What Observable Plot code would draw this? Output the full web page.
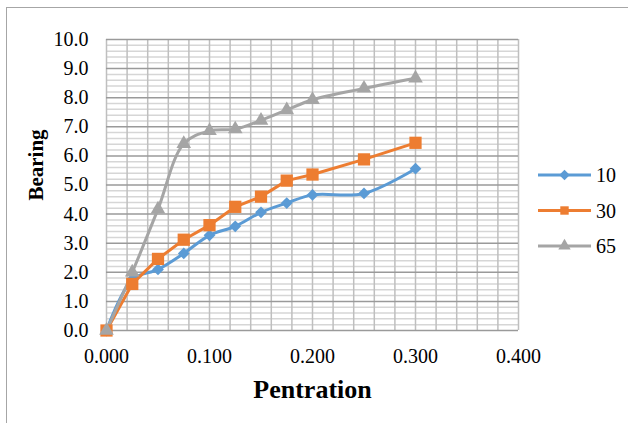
<!DOCTYPE html>
<html><head><meta charset="utf-8">
<script src="https://cdn.jsdelivr.net/npm/d3@7"></script>
<script src="https://cdn.jsdelivr.net/npm/@observablehq/plot@0.6"></script>
<style>
body{margin:0;background:#fff;}
#chart{position:relative;width:628px;height:423px;overflow:hidden;font-family:"Liberation Serif","Times New Roman",serif;background:#fff;}
#frame{position:absolute;left:6px;top:7px;width:800px;height:800px;border:1px solid #a6a6a6;}
#chart svg{position:absolute;left:0;top:0;}
#chart svg text{font-family:"Liberation Serif","Times New Roman",serif !important;}
</style></head><body><div id="chart"><div id="frame"></div></div>
<script>
// ---- data ----
const penetration = [0, 0.025, 0.05, 0.075, 0.1, 0.125, 0.15, 0.175, 0.2, 0.25, 0.3];
const series10 = [0, 1.75, 2.1, 2.65, 3.27, 3.58, 4.06, 4.38, 4.66, 4.71, 5.56];
const series30 = [0, 1.6, 2.46, 3.12, 3.62, 4.25, 4.6, 5.15, 5.36, 5.88, 6.45];
const series65 = [0, 2.0, 4.17, 6.42, 6.86, 6.92, 7.22, 7.58, 7.93, 8.32, 8.67];
const seriesNames = ["10", "30", "65"];
const xTicks = [0, 0.1, 0.2, 0.3, 0.4];
const yTicks = [0, 1, 2, 3, 4, 5, 6, 7, 8, 9, 10];
const xLabel = "Pentration";
const yLabel = "Bearing";

// ---- styles ----
const colors = ["#5B9BD5", "#ED7D31", "#A5A5A5"];
const symbols = ["diamond2", "square2", "triangle2"];
const radii = [5.3, 7.8, 7];
const curves = ["catmull-rom", "linear", "catmull-rom"];
const fontFam = '"Liberation Serif","Times New Roman",serif';

const allSeries = [series10, series30, series65];
const tables = allSeries.map((vals, i) => penetration.map((p, j) => ({series: seriesNames[i], x: p, y: vals[j]})));

const yMinor = d3.range(0, 50).map(i => i * 0.2).filter(v => Math.abs(v - Math.round(v)) > 1e-6);
const xGrid = d3.range(0, 21).map(i => i * 0.02);

const marks = [
  Plot.gridY(yMinor, {stroke: "#d6d6d6", strokeOpacity: 1, strokeWidth: 1.5}),
  Plot.gridX(xGrid, {stroke: "#bfbfbf", strokeOpacity: 1, strokeWidth: 1.5}),
  Plot.gridY(yTicks, {stroke: "#9a9a9a", strokeOpacity: 1, strokeWidth: 1.5}),
  Plot.axisY(yTicks, {tickSize: 0, tickPadding: 18, tickFormat: d3.format(".1f"), label: null, fontSize: 20}),
  Plot.axisX(xTicks, {tickSize: 0, tickPadding: 18, tickFormat: d3.format(".3f"), label: null, fontSize: 20}),
  Plot.text([xLabel], {text: d => d, frameAnchor: "bottom", textAnchor: "middle", dy: 67, fontSize: 26, fontWeight: "bold"}),
  Plot.text([yLabel], {text: d => d, frameAnchor: "left", textAnchor: "middle", dx: -70, dy: -20, rotate: -90, fontSize: 21, fontWeight: "bold"})
];
tables.forEach((t, i) => {
  marks.push(Plot.line(t, {x: "x", y: "y", stroke: colors[i], strokeWidth: 3, curve: curves[i]}));
});
tables.forEach((t, i) => {
  marks.push(Plot.dot(t, {x: "x", y: "y", symbol: () => symbols[i], fill: colors[i], stroke: "none", r: radii[i]}));
});

const chart = Plot.plot({
  width: 628, height: 423,
  marginLeft: 106, marginRight: 110, marginTop: 39, marginBottom: 93,
  x: {domain: [0, 0.4]},
  y: {domain: [0, 10]},
  symbol: {type: "identity"},
  style: {fontFamily: fontFam, fontSize: "20px", color: "#000", background: "transparent"},
  marks
});
document.getElementById("chart").appendChild(chart);

// ---- legend ----
const leg = d3.select("#chart").append("svg").attr("width", 628).attr("height", 423)
  .style("font-family", fontFam).style("font-size", "20px");
const legY = [175, 210.5, 246];
const legSize = [70, 90, 110];
seriesNames.forEach((name, i) => {
  const g = leg.append("g").attr("transform", `translate(0,${legY[i]})`);
  g.append("line").attr("x1", 538).attr("x2", 591).attr("y1", 0).attr("y2", 0)
    .attr("stroke", colors[i]).attr("stroke-width", 3);
  const symType = [d3.symbolDiamond2, d3.symbolSquare2, d3.symbolTriangle2][i];
  g.append("path").attr("d", d3.symbol(symType, legSize[i])()).attr("transform", "translate(564.5,0)")
    .attr("fill", colors[i]);
  g.append("text").attr("x", 596).attr("y", 0).attr("dy", "0.35em").text(name);
});
</script></body></html>
